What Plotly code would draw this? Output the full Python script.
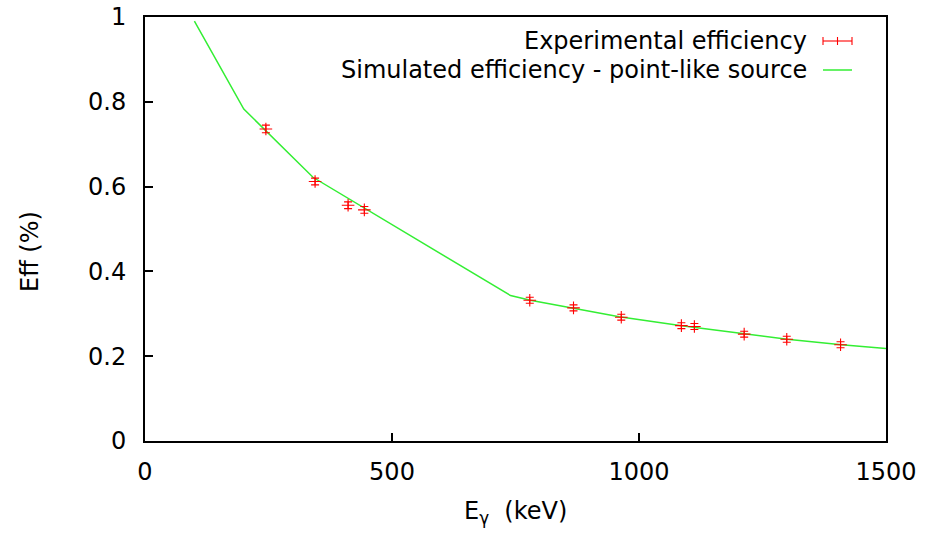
import plotly.graph_objects as go

# Experimental efficiency (152Eu lines)
exp_energy = [244.7, 344.3, 411.1, 444.0, 778.9, 867.4, 964.1, 1085.8, 1112.1, 1212.9, 1299.1, 1408.0]
exp_eff = [0.736, 0.612, 0.556, 0.545, 0.332, 0.314, 0.292, 0.272, 0.270, 0.252, 0.240, 0.227]
exp_err = [0.009, 0.008, 0.008, 0.008, 0.007, 0.007, 0.007, 0.007, 0.007, 0.007, 0.007, 0.007]

# Simulated efficiency - point-like source
sim_energy = [100, 200, 340, 740, 780, 870, 960, 1090, 1210, 1300, 1410, 1500]
sim_eff = [0.99, 0.783, 0.622, 0.343, 0.332, 0.312, 0.293, 0.271, 0.253, 0.240, 0.227, 0.218]

x_ticks = [0, 500, 1000, 1500]
y_ticks = [0, 0.2, 0.4, 0.6, 0.8, 1]

FONT = "DejaVu Sans, Liberation Sans, Arial, sans-serif"
RED = "#ff0000"
GREEN = "#33ee33"

W, H = 925, 534
L, R, T, B = 145, 886, 17, 441  # plot area in pixels

fig = go.Figure()
fig.add_trace(go.Scatter(
    x=sim_energy, y=sim_eff, mode="lines",
    line=dict(color=GREEN, width=1.5),
    name="Simulated efficiency - point-like source", showlegend=False,
))
fig.add_trace(go.Scatter(
    x=exp_energy, y=exp_eff, mode="markers",
    marker=dict(symbol="cross-thin", size=9, line=dict(color=RED, width=1.1), color=RED),
    error_y=dict(type="data", array=exp_err, visible=True, color=RED, thickness=1.1, width=4),
    name="Experimental efficiency", showlegend=False,
))

# paper coords map onto the plot area
def px(x):
    return (x - L) / (R - L)
def py(y):
    return (B - y) / (B - T)

leg_text_x = 809
leg_rows = [(41, "Experimental efficiency"), (70, "Simulated efficiency - point-like source")]

annotations = []
for yy, txt in leg_rows:
    annotations.append(dict(
        x=px(leg_text_x), y=py(yy), xref="paper", yref="paper",
        text=txt, showarrow=False, xanchor="right", yanchor="middle",
        font=dict(family=FONT, size=24, color="black"),
    ))

shapes = []
ry = leg_rows[0][0]
shapes.append(dict(type="line", xref="paper", yref="paper", x0=px(823), x1=px(852), y0=py(ry), y1=py(ry),
                   line=dict(color=RED, width=1.1)))
for sx in (823, 837.5, 852):
    shapes.append(dict(type="line", xref="paper", yref="paper", x0=px(sx), x1=px(sx), y0=py(ry - 4), y1=py(ry + 4),
                       line=dict(color=RED, width=1.1)))
gy = leg_rows[1][0]
shapes.append(dict(type="line", xref="paper", yref="paper", x0=px(823), x1=px(852), y0=py(gy), y1=py(gy),
                   line=dict(color=GREEN, width=1.5)))

annotations.append(dict(
    x=px(515), y=py(512), xref="paper", yref="paper",
    text="E<sub>γ</sub>  (keV)", showarrow=False, xanchor="center", yanchor="middle",
    font=dict(family=FONT, size=24, color="black"),
))
annotations.append(dict(
    x=px(30), y=py(252), xref="paper", yref="paper",
    text="Eff (%)", showarrow=False, xanchor="center", yanchor="middle", textangle=-90,
    font=dict(family=FONT, size=24, color="black"),
))

fig.update_layout(
    width=W, height=H,
    margin=dict(l=L, r=W - R, t=T, b=H - B, autoexpand=False),
    paper_bgcolor="white", plot_bgcolor="white",
    font=dict(family=FONT, size=24, color="black"),
    showlegend=False,
    annotations=annotations,
    shapes=shapes,
)
fig.update_xaxes(
    range=[0, 1500], tickvals=x_ticks, ticktext=[str(v) for v in x_ticks],
    ticks="inside", ticklen=8, tickwidth=2, tickcolor="black",
    showline=True, linecolor="black", linewidth=2, mirror=True,
    showgrid=False, zeroline=False, ticklabelstandoff=8, automargin=False,
)
fig.update_yaxes(
    range=[0, 1], tickvals=y_ticks, ticktext=["0", "0.2", "0.4", "0.6", "0.8", "1"],
    ticks="inside", ticklen=8, tickwidth=2, tickcolor="black",
    showline=True, linecolor="black", linewidth=2, mirror=True,
    showgrid=False, zeroline=False, ticklabelstandoff=12, automargin=False,
)

fig.write_html("out.html")
